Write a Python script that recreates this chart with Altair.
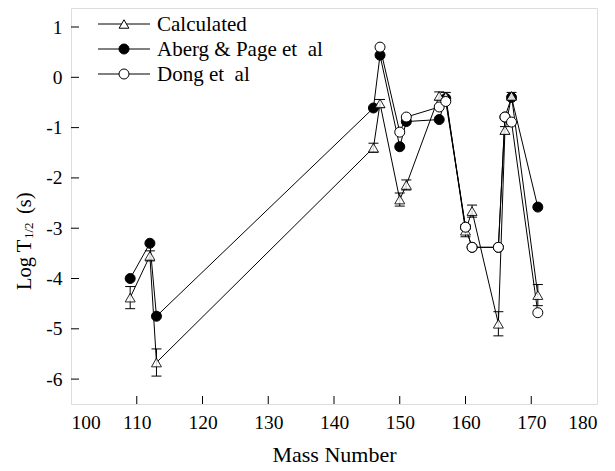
import altair as alt
import pandas as pd

# ---- data ----
calc_mass = [109, 112, 113, 146, 147, 150, 151, 156, 157, 160, 161, 165, 166, 167, 171]
calc_val = [-4.38, -3.55, -5.67, -1.40, -0.52, -2.43, -2.14, -0.37, -0.38, -3.05, -2.66, -4.90, -1.05, -0.37, -4.33]
calc_err = [0.22, 0.10, 0.27, 0.09, 0.08, 0.13, 0.10, 0.08, 0.08, 0.12, 0.12, 0.24, 0.07, 0.07, 0.21]

aberg_mass = [109, 112, 113, 146, 147, 150, 151, 156, 157, 160, 161, 165, 166, 167, 171]
aberg_val = [-4.00, -3.30, -4.75, -0.61, 0.44, -1.38, -0.88, -0.84, -0.42, -2.98, -3.38, -3.38, -0.79, -0.40, -2.58]

dong_mass = [147, 150, 151, 156, 157, 160, 161, 165, 166, 167, 171]
dong_val = [0.60, -1.09, -0.79, -0.59, -0.48, -2.98, -3.38, -3.38, -0.79, -0.89, -4.68]

series_names = ["Calculated", "Aberg & Page et\u00a0 al", "Dong et\u00a0 al"]
x_ticks = [100, 110, 120, 130, 140, 150, 160, 170, 180]
y_ticks = [-6, -5, -4, -3, -2, -1, 0, 1]
y_title_parts = ["Log T", "1/2", "(s)"]

FONT = "'Liberation Serif', 'Times New Roman', 'DejaVu Serif', serif"
W, H = 526, 396

rows = []
for m, v, e in zip(calc_mass, calc_val, calc_err):
    rows.append(dict(series="Calculated", mass=m, val=v, lo=v - e, hi=v + e))
for m, v in zip(aberg_mass, aberg_val):
    rows.append(dict(series="Aberg", mass=m, val=v, lo=v, hi=v))
for m, v in zip(dong_mass, dong_val):
    rows.append(dict(series="Dong", mass=m, val=v, lo=v, hi=v))
df = pd.DataFrame(rows)

xs = alt.Scale(domain=[100, 180], nice=False, zero=False)
ys = alt.Scale(domain=[-6.495, 1.378], nice=False, zero=False)

base = alt.Chart(df)

lines = base.mark_line(color="black", strokeWidth=1).encode(
    x=alt.X("mass:Q", scale=xs, axis=alt.Axis(
        values=x_ticks, title="Mass Number", tickSize=0, domain=False, grid=False,
        labelFont=FONT, labelFontSize=19.5, labelColor="black", labelPadding=9,
        titleFont=FONT, titleFontSize=22, titleFontWeight="normal", titleColor="black",
        titlePadding=13)),
    y=alt.Y("val:Q", scale=ys, axis=alt.Axis(
        values=y_ticks, title=None, tickSize=0, domain=False, grid=False,
        labelFont=FONT, labelFontSize=19.5, labelColor="black", labelPadding=9,
        labelExpr="toString(datum.value)")),
    detail="series:N",
    order="mass:Q",
)

calc = base.transform_filter(alt.datum.series == "Calculated")
err_rule = calc.mark_rule(color="black", strokeWidth=1).encode(
    x=alt.X("mass:Q", scale=xs), y=alt.Y("lo:Q", scale=ys), y2="hi:Q")
cap_lo = calc.mark_tick(orient="horizontal", size=10, thickness=1, color="black", opacity=1).encode(
    x=alt.X("mass:Q", scale=xs), y=alt.Y("lo:Q", scale=ys))
cap_hi = calc.mark_tick(orient="horizontal", size=10, thickness=1, color="black", opacity=1).encode(
    x=alt.X("mass:Q", scale=xs), y=alt.Y("hi:Q", scale=ys))

calc_pts = calc.mark_point(shape="triangle-up", size=100, filled=True, fill="white",
                           stroke="black", strokeWidth=1, opacity=0.85).encode(
    x=alt.X("mass:Q", scale=xs), y=alt.Y("val:Q", scale=ys))
aberg_pts = base.transform_filter(alt.datum.series == "Aberg").mark_point(
    shape="circle", size=100, filled=True, fill="black", stroke="black", strokeWidth=1, opacity=1).encode(
    x=alt.X("mass:Q", scale=xs), y=alt.Y("val:Q", scale=ys))
dong_pts = base.transform_filter(alt.datum.series == "Dong").mark_point(
    shape="circle", size=100, filled=True, fill="white", stroke="black", strokeWidth=1, opacity=1).encode(
    x=alt.X("mass:Q", scale=xs), y=alt.Y("val:Q", scale=ys))

# inward ticks
xt = alt.Chart(pd.DataFrame({"t": x_ticks[1:-1]})).mark_rule(color="black", strokeWidth=1).encode(
    x=alt.X("t:Q", scale=xs), y=alt.value(H), y2=alt.value(H - 8))
yt = alt.Chart(pd.DataFrame({"t": y_ticks})).mark_rule(color="black", strokeWidth=1).encode(
    y=alt.Y("t:Q", scale=ys), x=alt.value(0), x2=alt.value(8))

# legend
leg_df = pd.DataFrame({"name": series_names})
leg_layers = []
styles = [
    dict(shape="triangle-up", fill="white", size=95),
    dict(shape="circle", fill="black", size=100),
    dict(shape="circle", fill="white", size=100),
]
for i, (nm, st) in enumerate(zip(series_names, styles)):
    yy = 16 + i * 25
    lc = alt.Chart(leg_df).transform_filter(alt.datum.name == nm)
    leg_layers.append(lc.mark_rule(color="black", strokeWidth=1).encode(
        x=alt.value(27), x2=alt.value(79), y=alt.value(yy)))
    leg_layers.append(lc.mark_point(shape=st["shape"], size=st["size"], filled=True, fill=st["fill"],
                                    stroke="black", strokeWidth=1, opacity=1).encode(
        x=alt.value(53), y=alt.value(yy)))
    leg_layers.append(lc.mark_text(align="left", baseline="middle", font=FONT, fontSize=21,
                                   color="black").encode(
        x=alt.value(86), y=alt.value(yy + 1), text="name:N"))

# y title pieces
tdf = pd.DataFrame({"part": y_title_parts})
title_layers = []
tpos = [(-46, 282, 20.5), (-42, 231, 13), (-46, 206, 20.5)]
for part, (tx, ty, fs) in zip(y_title_parts, tpos):
    title_layers.append(
        alt.Chart(tdf).transform_filter(alt.datum.part == part).mark_text(
            angle=270, align="left", baseline="middle", font=FONT, fontSize=fs, color="black"
        ).encode(x=alt.value(tx), y=alt.value(ty), text="part:N"))

chart = alt.layer(
    lines, err_rule, cap_lo, cap_hi, aberg_pts, calc_pts, dong_pts, xt, yt,
    *leg_layers, *title_layers
).properties(
    width=W, height=H,
    autosize=alt.AutoSizeParams(type="none"),
    padding={"left": 63, "top": 0, "right": 10, "bottom": 66},
).configure_view(stroke="black", strokeWidth=1.3).configure(background="white")

chart.save("out.html", embed_options={"renderer": "svg", "actions": False})
